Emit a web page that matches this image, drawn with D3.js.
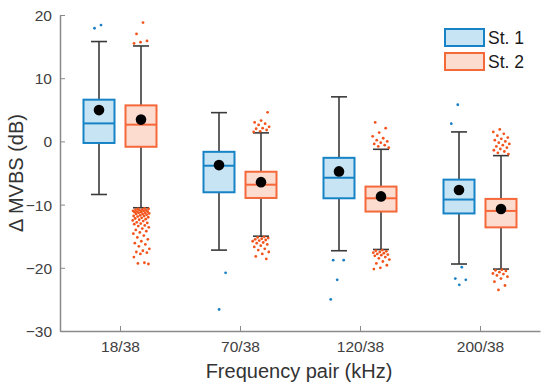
<!DOCTYPE html>
<html><head><meta charset="utf-8">
<script src="https://cdn.jsdelivr.net/npm/d3@7"></script>
<style>body{margin:0;background:#fff}svg{display:block}text{font-family:Arial,"Liberation Sans",sans-serif}</style>
</head><body><svg id="c" width="550" height="388"></svg>
<script>
const categories = ["18/38","70/38","120/38","200/38"];
const seriesNames = ["St. 1","St. 2"];
const yTicks = [-30,-20,-10,0,10,20];
// [whiskerLow, q1, median, q3, whiskerHigh, mean]
const st1Stats = [
  [-8.4, -0.25, 2.85, 6.6, 15.8, 4.95],
  [-17.2, -8.05, -3.85, -1.65, 4.55, -3.75],
  [-17.3, -9.0, -5.75, -2.6, 7.05, -4.75],
  [-19.4, -11.4, -9.2, -6.05, 1.5, -7.7]
];
const st2Stats = [
  [-10.5, -0.85, 2.65, 5.7, 15.1, 3.45],
  [-15.0, -8.95, -6.85, -4.8, 1.35, -6.45],
  [-17.1, -11.1, -9.0, -7.15, -1.25, -8.7],
  [-20.2, -13.6, -11.0, -9.1, -2.25, -10.7]
];
const st1Outliers = [
  [18.4, 17.9],
  [-20.8, -26.6],
  [-18.8, -18.8, -21.9, -25.0],
  [5.8, 2.8, -19.9, -21.7, -21.9, -22.7]
];
const st2Outliers = [
  [18.8, 17.0, 15.9, 15.7, 15.5,
   -10.6,-10.7,-10.7,-10.8,-10.8,-10.9,-10.9,-11.0,-11.0,-11.1,-11.1,-11.2,-11.2,-11.3,-11.3,-11.4,-11.5,-11.5,-11.6,-11.7,-11.8,-11.8,-11.9,-12.0,-12.1,-12.2,-12.3,-12.4,-12.5,-12.6,-12.8,-12.9,-13.0,-13.1,-13.3,-13.4,-13.6,-13.8,-14.0,-14.2,-14.4,-14.6,-14.9,-15.2,-15.5,-15.8,-16.1,-16.3,-16.6,-17.0,-17.3,-17.5,-17.6,-17.8,-18.3,-19.2,-19.3,-19.4],
  [4.6, 3.3, 3.0, 2.8, 2.6, 2.3, 2.1, 2.0, 1.8, 1.6, 1.5,
   -15.1,-15.2,-15.3,-15.4,-15.5,-15.6,-15.7,-15.8,-16.0,-16.1,-16.3,-16.5,-16.7,-17.0,-17.2,-17.5,-17.8,-18.2,-18.6],
  [3.0, 2.1, 1.4, 0.8, 0.5, 0.2, 0.0, -0.2, -0.4, -0.6, -0.8, -1.0,
   -17.2,-17.3,-17.4,-17.5,-17.6,-17.7,-17.8,-17.9,-18.0,-18.1,-18.3,-18.5,-18.7,-19.0,-19.3,-19.6,-20.0,-20.2],
  [1.9, 1.5, 1.2, 0.9, 0.6, 0.4, 0.2, 0.0, -0.2, -0.4, -0.6, -0.8, -1.0, -1.2, -1.4, -1.6, -1.8, -2.0,
   -20.3,-20.4,-20.5,-20.7,-20.9,-21.0,-21.2,-21.4,-21.7,-22.2,-22.8,-23.5]
];

const strokeCols = ["#1683c6", "#f4683a"];
const fillCols = ["#c6e4f3", "#fddcd0"];
const dotCols = ["#1a7fc4", "#f2541b"];

const svg = d3.select("#c");
const x = d3.scaleLinear().domain([0.5, 4.5]).range([60, 540]);
const y = d3.scaleLinear().domain([-30, 20]).range([331, 15]);
const offset = 0.175, bw = 31, cap = 8;

// axes
const axColor = "#8a8a8a", txtColor = "#404040";
const yAxis = svg.append("g").attr("transform", "translate(60,0)")
  .call(d3.axisLeft(y).tickValues(yTicks).tickSizeInner(-5).tickSizeOuter(0).tickPadding(8).tickFormat(d => d < 0 ? "\u2212" + Math.abs(d) : d));
const xAxis = svg.append("g").attr("transform", "translate(0,331)")
  .call(d3.axisBottom(x).tickValues([1,2,3,4]).tickSizeInner(-5).tickSizeOuter(0).tickPadding(10).tickFormat(d => categories[d-1]));
[yAxis, xAxis].forEach(a => {
  a.select(".domain").attr("stroke", axColor).attr("stroke-width", 1.5);
  a.selectAll(".tick line").attr("stroke", axColor).attr("stroke-width", 1);
  a.selectAll(".tick text").attr("fill", txtColor).style("font-size", "15.5px").style("font-family", "Arial, 'Liberation Sans', sans-serif");
});
yAxis.selectAll(".tick text").attr("dy", "0.36em");

// boxes
const stats = [st1Stats, st2Stats];
const outs = [st1Outliers, st2Outliers];
stats.forEach((S, s) => {
  const g = svg.append("g");
  S.forEach((d, i) => {
    const cx = x(i + 1 + (s === 0 ? -offset : offset));
    const [wl, q1, med, q3, wh, mean] = d;
    const wc = "#3a3a3a";
    g.append("line").attr("x1", cx).attr("x2", cx).attr("y1", y(q3)).attr("y2", y(wh)).attr("stroke", wc).attr("stroke-width", 1.6);
    g.append("line").attr("x1", cx).attr("x2", cx).attr("y1", y(q1)).attr("y2", y(wl)).attr("stroke", wc).attr("stroke-width", 1.6);
    g.append("line").attr("x1", cx - cap).attr("x2", cx + cap).attr("y1", y(wh)).attr("y2", y(wh)).attr("stroke", wc).attr("stroke-width", 1.6);
    g.append("line").attr("x1", cx - cap).attr("x2", cx + cap).attr("y1", y(wl)).attr("y2", y(wl)).attr("stroke", wc).attr("stroke-width", 1.6);
    g.append("rect").attr("x", cx - bw/2).attr("y", y(q3)).attr("width", bw).attr("height", y(q1) - y(q3))
      .attr("fill", fillCols[s]).attr("stroke", strokeCols[s]).attr("stroke-width", 2);
    g.append("line").attr("x1", cx - bw/2).attr("x2", cx + bw/2).attr("y1", y(med)).attr("y2", y(med)).attr("stroke", strokeCols[s]).attr("stroke-width", 2);
    // outliers, spread horizontally with a low-discrepancy (golden ratio) offset
    outs[s][i].forEach((v, k) => {
      const f = ((k + 1) * 0.6180339887 + i * 0.27) % 1;
      const j = (f * 2 - 1) * 8.5;
      g.append("circle").attr("cx", cx + j).attr("cy", y(v)).attr("r", 1.4).attr("fill", dotCols[s]);
    });
    g.append("circle").attr("cx", cx).attr("cy", y(mean)).attr("r", 5.3).attr("fill", "#000");
  });
});

// legend
seriesNames.forEach((n, s) => {
  const ly = 29 + s * 24;
  svg.append("rect").attr("x", 445).attr("y", ly).attr("width", 39).attr("height", 17)
    .attr("fill", fillCols[s]).attr("stroke", strokeCols[s]).attr("stroke-width", 2);
  svg.append("text").attr("x", 488).attr("y", ly + 15).text(n).attr("fill", "#1a1a1a").style("font-size", "17.5px");
});

// axis titles
svg.append("text").attr("x", 299).attr("y", 378).attr("text-anchor", "middle").attr("fill", "#333").style("font-size", "20px").text("Frequency pair (kHz)");
svg.append("text").attr("transform", "translate(23,173) rotate(-90)").attr("text-anchor", "middle").attr("fill", "#333").style("font-size", "20px").text("\u0394 MVBS (dB)");
</script></body></html>
